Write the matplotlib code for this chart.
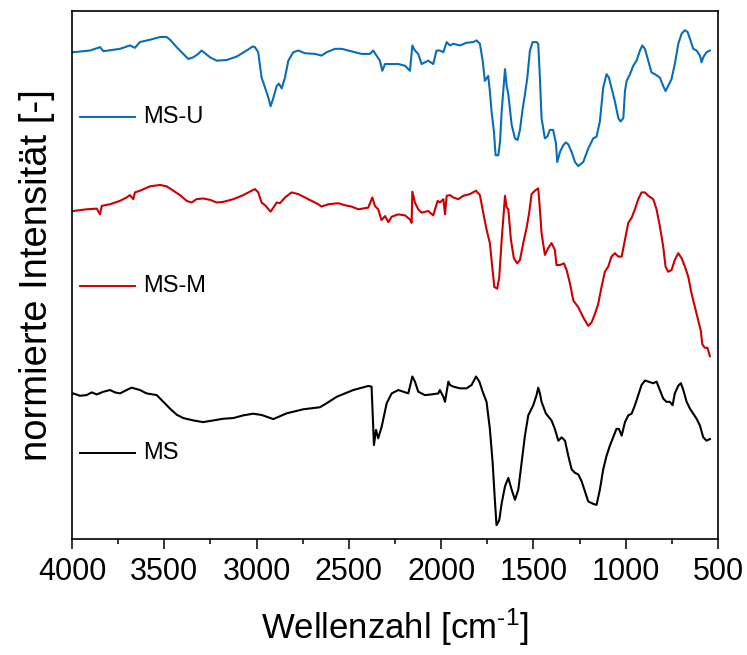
import matplotlib.pyplot as plt
import numpy as np

plt.rcParams["font.family"] = ["Liberation Sans", "DejaVu Sans"]
plt.rcParams["mathtext.fontset"] = "custom"
plt.rcParams["mathtext.rm"] = "Liberation Sans"
plt.rcParams["mathtext.default"] = "regular"

# spectra; y is stacked intensity in a.u. (axis runs downward)
wn_u = [4000, 3993, 3902, 3848, 3830, 3740, 3686, 3659, 3632, 3577, 3523, 3487, 3469, 3433, 3397,
        3370, 3343, 3316, 3298, 3280, 3252, 3216, 3162, 3108, 3054, 3021, 3009, 2991, 2973, 2954,
        2936, 2924, 2909, 2891, 2879, 2864, 2846, 2828, 2801, 2774, 2738, 2684, 2648, 2620, 2575,
        2539, 2503, 2467, 2431, 2386, 2368, 2350, 2332, 2319, 2304, 2268, 2232, 2196, 2169, 2156,
        2142, 2124, 2106, 2070, 2043, 2025, 2007, 1988, 1970, 1952, 1934, 1898, 1862, 1826, 1808,
        1790, 1775, 1763, 1745, 1736, 1727, 1714, 1705, 1690, 1681, 1672, 1654, 1645, 1636, 1618,
        1600, 1586, 1573, 1559, 1546, 1533, 1519, 1504, 1483, 1474, 1465, 1456, 1438, 1425, 1411,
        1393, 1378, 1371, 1356, 1338, 1324, 1311, 1293, 1275, 1257, 1230, 1203, 1176, 1158, 1140,
        1122, 1104, 1091, 1073, 1059, 1040, 1028, 1013, 1004, 995, 977, 959, 941, 923, 910,
        896, 878, 860, 842, 815, 797, 784, 770, 752, 734, 715, 697, 679, 665, 652,
        634, 616, 598, 589, 580, 562, 544]
int_u = [125, 125, 120, 110, 122, 115, 105, 112, 95, 88, 80, 80, 88, 110, 130,
         145, 140, 130, 120, 128, 140, 150, 148, 138, 120, 108, 110, 125, 200, 230,
         260, 285, 260, 225, 218, 232, 200, 150, 125, 120, 128, 130, 135, 125, 115,
         115, 120, 125, 130, 130, 120, 135, 150, 180, 160, 160, 160, 165, 180, 105,
         120, 130, 160, 150, 160, 120, 120, 125, 95, 105, 100, 105, 97, 95, 90,
         100, 150, 210, 195, 240, 300, 360, 430, 430, 390, 300, 175, 225, 250, 340,
         380, 385, 355, 295, 250, 200, 120, 95, 95, 100, 200, 320, 380, 375, 355,
         355, 395, 450, 420, 400, 392, 398, 420, 450, 462, 450, 410, 380, 375, 330,
         230, 190, 200, 240, 270, 320, 330, 320, 240, 210, 190, 165, 150, 120, 105,
         115, 150, 185, 190, 200, 225, 240, 225, 205, 160, 100, 70, 60, 65, 85,
         115, 120, 135, 155, 140, 125, 120]

wn_m = [4000, 3993, 3921, 3866, 3848, 3839, 3794, 3740, 3704, 3686, 3668, 3659, 3632, 3577, 3523,
        3487, 3451, 3415, 3379, 3352, 3325, 3289, 3252, 3216, 3180, 3126, 3072, 3027, 3009, 2991,
        2973, 2954, 2924, 2909, 2891, 2873, 2846, 2810, 2774, 2720, 2666, 2648, 2611, 2557, 2521,
        2485, 2449, 2395, 2373, 2359, 2341, 2323, 2304, 2286, 2268, 2232, 2196, 2169, 2160, 2156,
        2142, 2124, 2106, 2070, 2043, 2019, 2007, 1988, 1979, 1970, 1952, 1934, 1907, 1880, 1844,
        1811, 1790, 1772, 1754, 1736, 1723, 1712, 1696, 1685, 1672, 1654, 1645, 1636, 1622, 1606,
        1588, 1573, 1555, 1537, 1523, 1510, 1492, 1474, 1465, 1456, 1438, 1420, 1402, 1384, 1375,
        1356, 1335, 1320, 1302, 1284, 1257, 1230, 1203, 1185, 1167, 1149, 1131, 1113, 1095, 1077,
        1059, 1040, 1022, 1004, 986, 968, 950, 932, 914, 896, 878, 851, 833, 815, 797,
        784, 770, 752, 734, 715, 697, 679, 661, 643, 625, 607, 593, 585, 571, 557, 544]
int_m = [595, 595, 590, 588, 605, 580, 575, 565, 555, 548, 560, 540, 535, 522, 518,
         522, 535, 548, 565, 570, 560, 558, 562, 570, 568, 560, 548, 535, 530, 540,
         570, 578, 597, 585, 570, 572, 555, 540, 545, 560, 575, 582, 575, 572, 578,
         582, 590, 585, 555, 580, 590, 622, 610, 628, 612, 605, 608, 620, 630, 538,
         570, 590, 600, 595, 608, 565, 570, 560, 605, 550, 548, 555, 560, 550, 545,
         535, 548, 600, 650, 690, 760, 820, 825, 790, 680, 550, 585, 590, 680, 735,
         750, 740, 690, 645, 600, 545, 535, 528, 590, 660, 725, 705, 690, 710, 755,
         755, 750, 770, 810, 860, 880, 910, 935, 925, 900, 870, 820, 775, 760, 730,
         720, 730, 730, 680, 630, 615, 590, 560, 540, 540, 550, 560, 590, 640, 700,
         760, 775, 770, 740, 720, 735, 760, 790, 840, 880, 920, 950, 990, 1000, 1000, 1025]

wn_s = [4000, 3993, 3957, 3921, 3893, 3866, 3830, 3794, 3767, 3740, 3704, 3677, 3650, 3632, 3596,
        3541, 3505, 3469, 3433, 3397, 3343, 3289, 3234, 3180, 3126, 3072, 3018, 2972, 2909, 2837,
        2747, 2657, 2620, 2566, 2476, 2395, 2377, 2364, 2353, 2341, 2322, 2295, 2268, 2232, 2205,
        2178, 2156, 2142, 2124, 2088, 2052, 2015, 2007, 1988, 1979, 1961, 1952, 1934, 1898, 1862,
        1835, 1811, 1793, 1775, 1754, 1736, 1721, 1709, 1700, 1685, 1672, 1654, 1636, 1618, 1600,
        1582, 1564, 1546, 1528, 1501, 1483, 1474, 1465, 1456, 1432, 1402, 1384, 1365, 1347, 1329,
        1311, 1293, 1275, 1257, 1239, 1221, 1203, 1176, 1158, 1140, 1122, 1104, 1086, 1068, 1050,
        1037, 1022, 1004, 986, 968, 950, 932, 914, 896, 878, 851, 833, 815, 797, 779,
        761, 746, 734, 715, 701, 688, 670, 652, 634, 616, 598, 580, 562, 544]
int_s = [1138, 1135, 1142, 1140, 1132, 1138, 1130, 1125, 1132, 1135, 1125, 1118, 1122, 1125, 1135,
         1140, 1160, 1180, 1198, 1208, 1215, 1220, 1215, 1210, 1208, 1200, 1195, 1199, 1211, 1194,
         1182, 1176, 1164, 1145, 1125, 1113, 1115, 1288, 1243, 1268, 1233, 1164, 1135, 1125, 1130,
         1135, 1085, 1100, 1130, 1140, 1138, 1135, 1125, 1145, 1160, 1100, 1110, 1115, 1120, 1120,
         1110, 1085, 1100, 1130, 1160, 1240, 1340, 1450, 1525, 1510, 1460, 1410, 1385, 1420, 1450,
         1420, 1340, 1260, 1200, 1170, 1140, 1118, 1135, 1160, 1195, 1215, 1240, 1275, 1265, 1275,
         1320, 1360, 1370, 1375, 1395, 1425, 1455, 1462, 1465, 1420, 1360, 1320, 1290, 1265, 1240,
         1240, 1260, 1220, 1200, 1195, 1170, 1140, 1110, 1097, 1100, 1105, 1100, 1125, 1150, 1160,
         1160, 1170, 1135, 1112, 1105, 1125, 1160, 1180, 1195, 1210, 1230, 1265, 1275, 1270]

names = ["MS-U", "MS-M", "MS"]
colors = ["#0a6db5", "#cc0000", "#000000"]
label_y = [0.7985, 0.4784, 0.163]

fig = plt.figure(figsize=(7.47, 6.55), dpi=100)
ax = fig.add_axes([72 / 747, 1 - 539 / 655, 646 / 747, 528 / 655])

for wn, val, name, col, ly in zip([wn_u, wn_m, wn_s], [int_u, int_m, int_s], names, colors, label_y):
    ax.plot(wn, val, color=col, lw=1.5)
    ax.plot([0.0124, 0.0975], [ly, ly], color=col, lw=1.4, transform=ax.transAxes)
    ax.text(0.1094, ly, name, transform=ax.transAxes, fontsize=17, va="center", ha="left")

ax.set_xlim(4000, 500)
ax.set_ylim(1566, 3)
ax.set_xticks(np.arange(4000, 499, -500))
ax.set_xticks(np.arange(3750, 500, -500), minor=True)
ax.set_yticks([])
ax.tick_params(axis="x", which="major", length=7, width=1.1, labelsize=22, pad=6)
ax.tick_params(axis="x", which="minor", length=3.5, width=1.1)
for s in ax.spines.values():
    s.set_linewidth(1.2)

ax.set_xlabel("Wellenzahl [cm$^{‐1}$]", fontsize=25, labelpad=14)
ax.set_ylabel("normierte Intensität [-]", fontsize=27.5, labelpad=12)

fig.savefig("out.png", dpi=100)
